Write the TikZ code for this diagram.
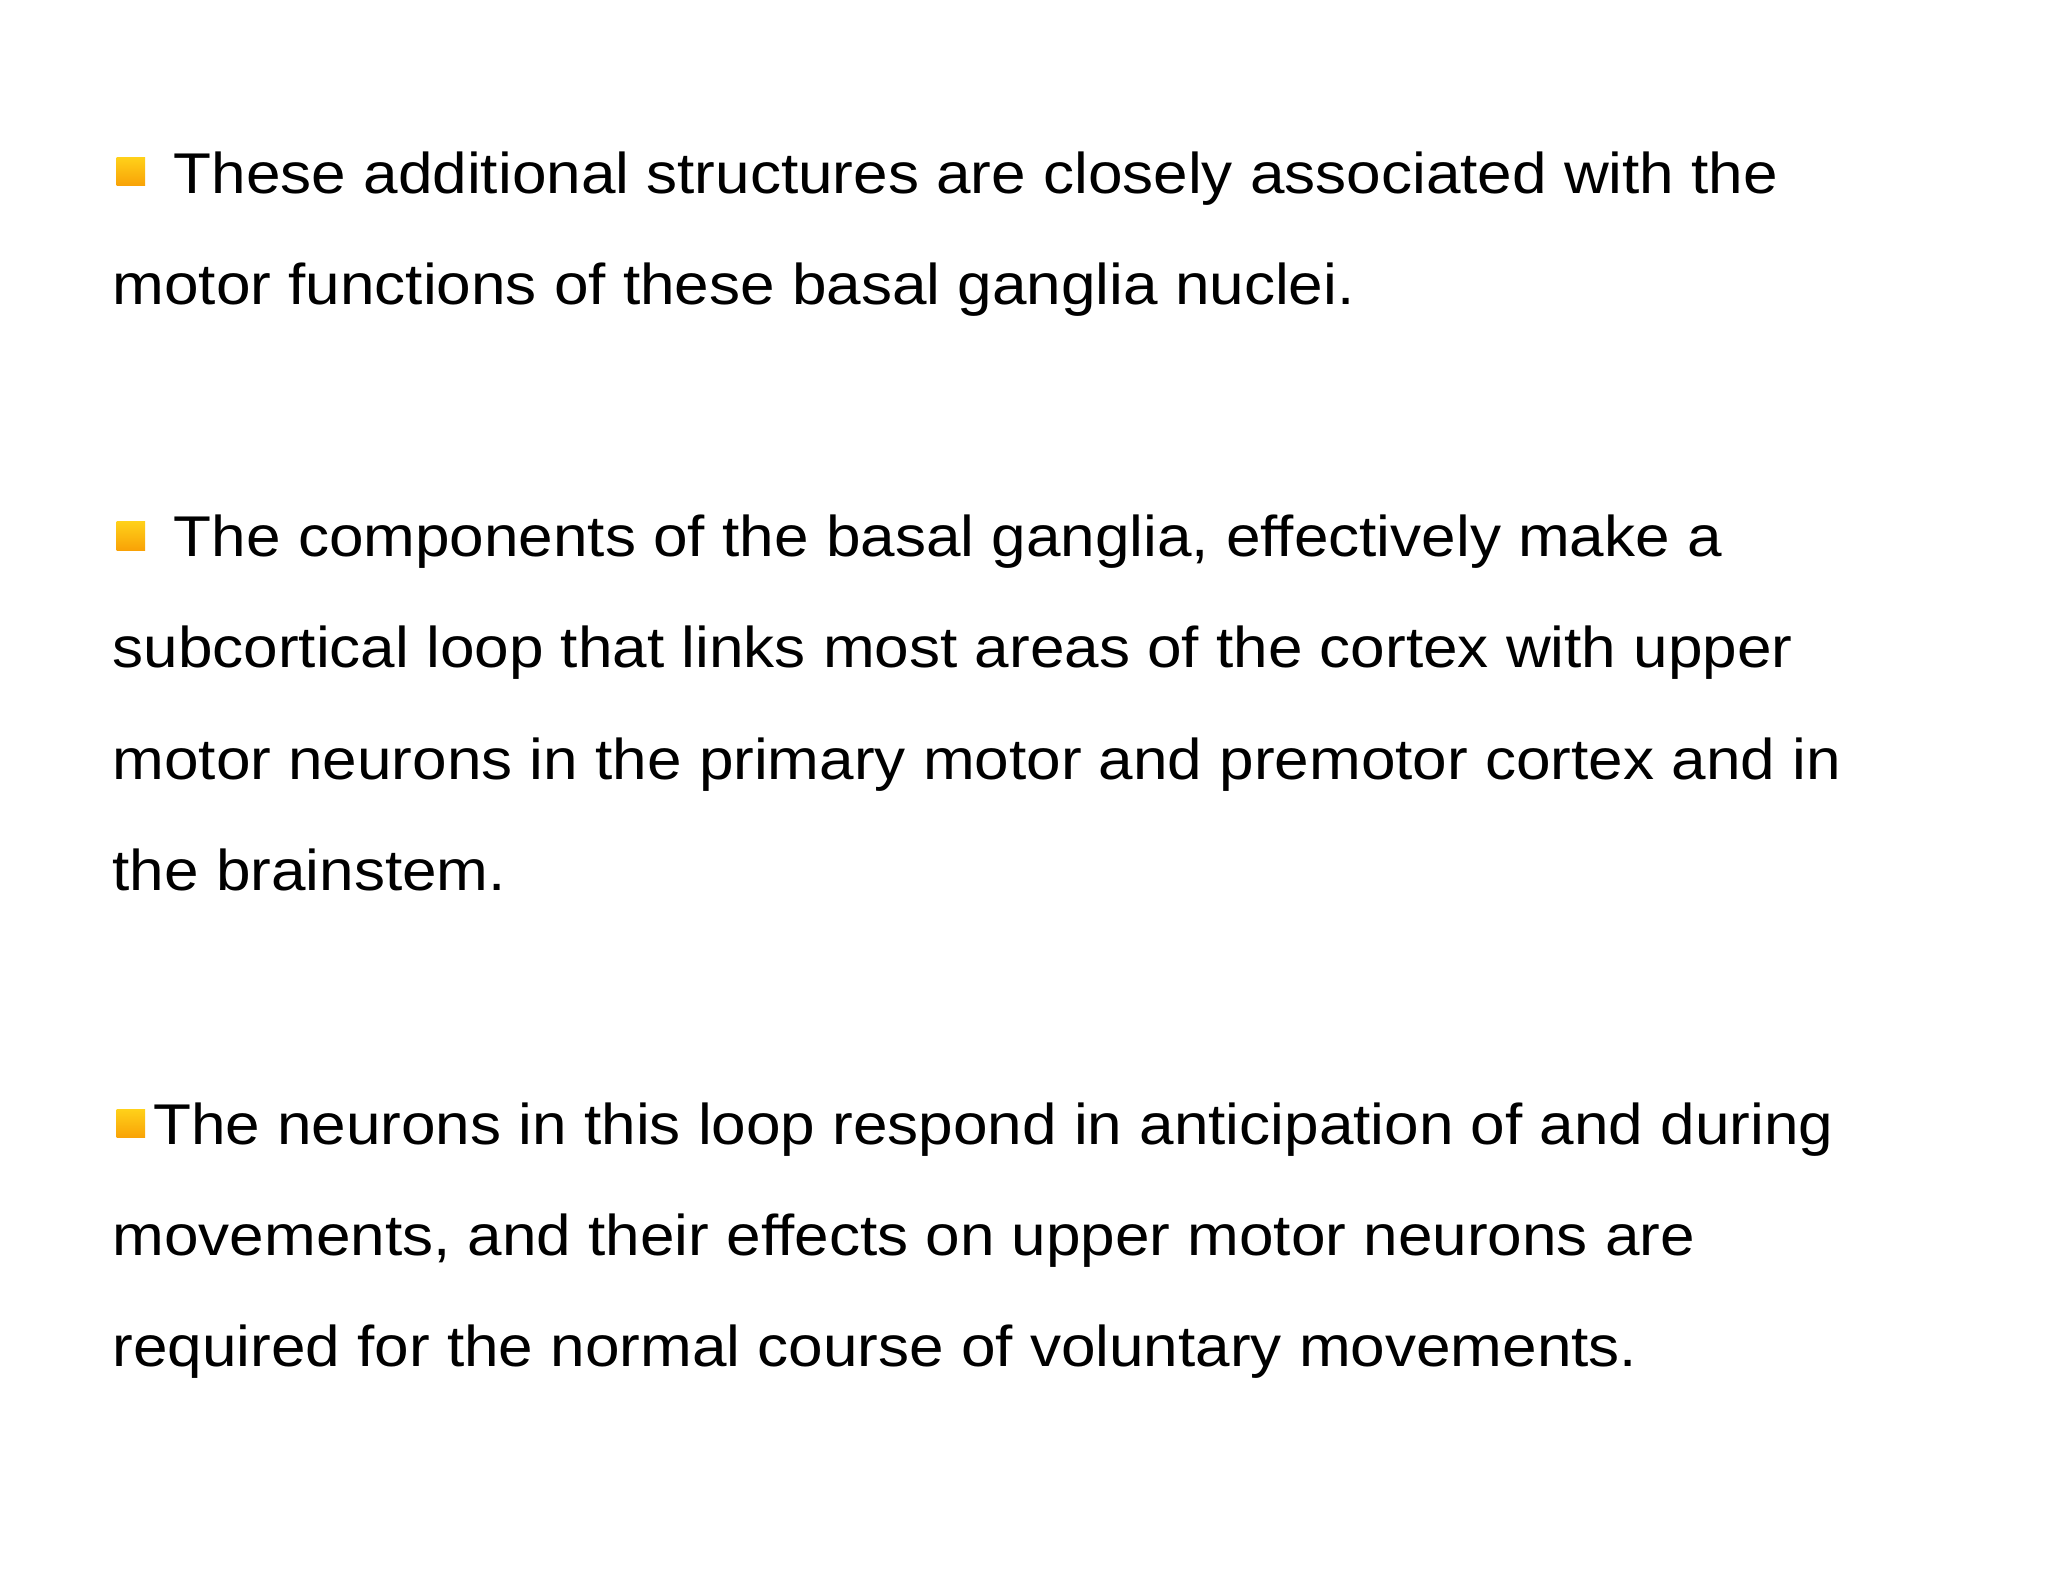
\documentclass[tikz,border=0pt]{standalone}
\usepackage{fontspec}
\setmainfont{Liberation Sans}
\begin{document}
\begin{tikzpicture}[x=1pt,y=-1pt,
  txt/.style={anchor=base west,inner sep=0pt,xscale=1.08,font=\fontsize{44}{50}\selectfont},
  bul/.style={minimum size=22pt,inner sep=0pt,anchor=north west,shading=axis,top color=yellow!60!orange!90!white,bottom color=orange!70!yellow!90!brown,draw=none}]
\useasboundingbox[fill=white] (0,0) rectangle (1568,1211);
\node[bul] (b1) at (89,120) {};
\node[bul] (b2) at (89,399) {};
\node[bul] (b3) at (89,849) {};
\node[txt] (t1) at (133,148) {These additional structures are closely associated with the};
\node[txt] (t2) at (86,233) {motor functions of these basal ganglia nuclei.};
\node[txt] (t3) at (133,426) {The components of the basal ganglia, effectively make a};
\node[txt] (t4) at (86,511) {subcortical loop that links most areas of the cortex with upper};
\node[txt] (t5) at (86,597) {motor neurons in the primary motor and premotor cortex and in};
\node[txt] (t6) at (86,682) {the brainstem.};
\node[txt] (t7) at (117,876) {The neurons in this loop respond in anticipation of and during};
\node[txt] (t8) at (86,961) {movements, and their effects on upper motor neurons are};
\node[txt] (t9) at (86,1046) {required for the normal course of voluntary movements.};
\end{tikzpicture}
\end{document}
